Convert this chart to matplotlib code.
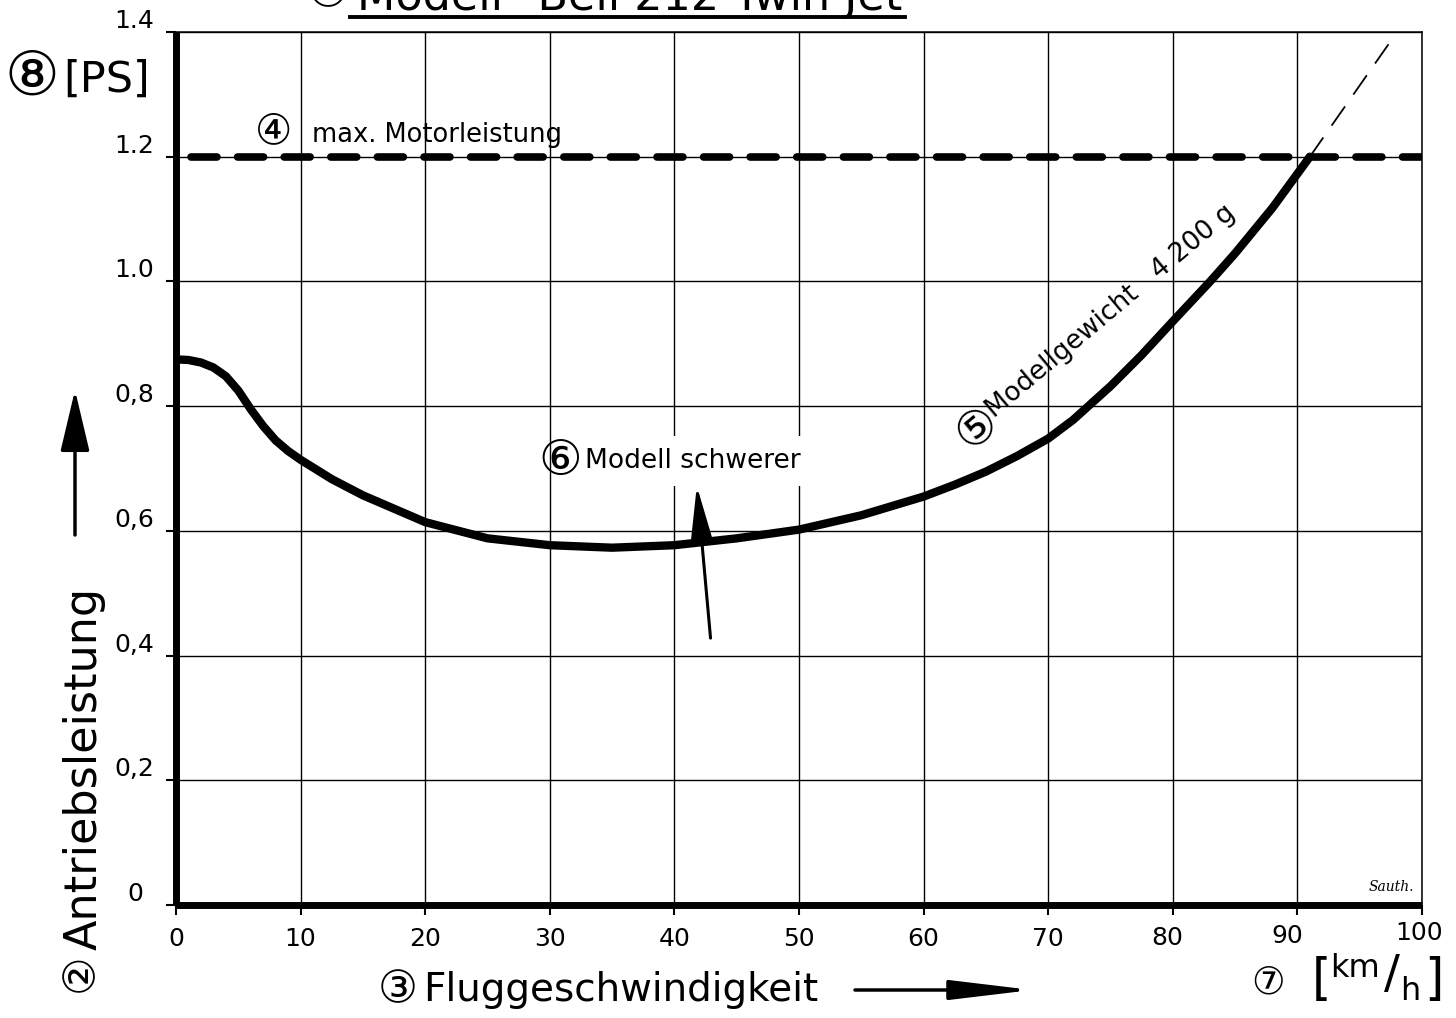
import matplotlib
matplotlib.use('Agg')
import matplotlib.pyplot as plt
from matplotlib.patches import FancyArrowPatch
from matplotlib.transforms import blended_transform_factory, offset_copy
from matplotlib.lines import Line2D

# ---------------- data ----------------
speed_kmh = [0, 1, 2, 3, 4, 5, 6, 7, 8, 9, 10, 12.5, 15, 20, 25, 30, 35, 40, 45, 50,
             55, 60, 62.5, 65, 67.5, 70, 72, 75, 77.5, 80, 83, 85, 88, 91]
power_ps = [0.875, 0.874, 0.870, 0.862, 0.848, 0.825, 0.795, 0.768, 0.745, 0.728, 0.714,
            0.683, 0.657, 0.614, 0.588, 0.577, 0.573, 0.577, 0.588, 0.602,
            0.625, 0.655, 0.674, 0.695, 0.720, 0.748, 0.778, 0.832, 0.882, 0.936,
            1.000, 1.045, 1.118, 1.200]
ext_speed = [91, 98]
ext_power = [1.20, 1.40]
max_power = 1.2

x_ticks = [0, 10, 20, 30, 40, 50, 60, 70, 80, 90, 100]
x_labels = ['0', '10', '20', '30', '40', '50', '60', '70', '80', '90', '100']
y_ticks = [0, 0.2, 0.4, 0.6, 0.8, 1.0, 1.2, 1.4]
y_labels = ['0', '0,2', '0,4', '0,6', '0,8', '1.0', '1.2', '1.4']

title = 'Modell "Bell 212 Twin Jet"'
label_motor = 'max. Motorleistung'
label_weight = 'Modellgewicht   4 200 g'
label_heavier = 'Modell schwerer'
ylabel = 'Antriebsleistung'
xlabel = 'Fluggeschwindigkeit'
unit_y = '[PS]'
signature = 'Sauth.'

plt.rcParams['font.family'] = ['DejaVu Sans']

W, H = 1456, 1018
fig = plt.figure(figsize=(W / 100, H / 100), dpi=100)
fig.patch.set_facecolor('white')
ax = fig.add_axes([176 / W, 1 - 905 / H, (1422 - 176) / W, (905 - 32) / H])

ax.set_xlim(0, 100)
ax.set_ylim(0, 1.4)


def fx(px):
    return px / W


def fy(py):
    return 1 - py / H


def circled(ch, x, y, size, rot=0):
    fig.text(fx(x), fy(y), ch, fontsize=size, ha='center', va='center',
             rotation=rot, family=['DejaVu Sans'])


# grid
ax.set_xticks(x_ticks)
ax.set_yticks(y_ticks)
ax.grid(True, color='black', lw=1.0)
ax.set_axisbelow(True)
ax.set_xticklabels([])
ax.set_yticklabels([])
ax.tick_params(axis='both', direction='out', length=7, width=1.5, color='black')

for s in ['top', 'right']:
    ax.spines[s].set_linewidth(1.1)
for s in ['left', 'bottom']:
    ax.spines[s].set_linewidth(5)
    ax.spines[s].set_capstyle('butt')

# max motor power dashed line
ax.axhline(max_power, xmin=0.012, color='black', lw=5.5, dashes=(3.4, 2.7),
           dash_capstyle='round', zorder=3)

# main curve
ax.plot(speed_kmh, power_ps, color='black', lw=6.0, solid_joinstyle='round',
        solid_capstyle='round', zorder=4)
# thin dashed extension
ax.plot(ext_speed, ext_power, color='black', lw=1.3, dashes=(13, 8), zorder=4)

# tick labels
tx = blended_transform_factory(ax.transData, ax.transAxes)
for v, lab in zip(x_ticks, x_labels):
    dx, dy = 0, -34
    if lab == '80':
        dx, dy = -6, -33
    if lab == '90':
        dx, dy = -10, -31
    if lab == '100':
        dx, dy = -3, -28
    ax.text(v, 0, lab, transform=offset_copy(tx, fig=fig, x=dx, y=dy, units='dots'),
            ha='center', va='center', fontsize=18)
ty = blended_transform_factory(ax.transAxes, ax.transData)
for v, lab in zip(y_ticks, y_labels):
    dx = -22 if lab != '0' else -33
    ax.text(0, v, lab, transform=offset_copy(ty, fig=fig, x=dx, y=11, units='dots'),
            ha='right', va='center', fontsize=18)

# annotations inside plot
circled('\u2463', 274, 131, 30)
ax.text(10.9, 1.2235, label_motor, fontsize=18.5, ha='left', va='baseline', zorder=5)

circled('\u2464', 977, 428, 33, rot=40)
ax.text(65.7, 0.781, label_weight, fontsize=19, rotation=40, rotation_mode='anchor',
        ha='left', va='baseline', zorder=5)

circled('\u2465', 560, 461, 35)
ax.text(32.8, 0.7008, label_heavier, fontsize=19, ha='left', va='baseline', zorder=5,
        bbox=dict(facecolor='white', edgecolor='none', pad=9))
ax.annotate('', xy=(41.8, 0.672), xytext=(42.9, 0.428),
            arrowprops=dict(arrowstyle='-|>,head_length=1.6,head_width=0.32',
                            mutation_scale=20, color='black', lw=2.2, shrinkA=0, shrinkB=0),
            zorder=6)
ax.text(99.4, 0.018, signature, fontsize=10, style='italic', ha='right', va='bottom',
        family=['DejaVu Serif'], zorder=5)

# title (partly cut off at top)
circled('\u2460', 328, -6, 34)
fig.text(fx(357), fy(10), title, fontsize=32, ha='left', va='baseline')
fig.add_artist(Line2D([fx(350), fx(905)], [fy(17), fy(17)], color='black', lw=2.8,
                      transform=fig.transFigure))

# axis labels
circled('\u2461', 80, 973, 31, rot=90)
fig.text(fx(84), fy(768), ylabel, fontsize=32, rotation=90, ha='center', va='center')
circled('\u2462', 398, 990, 32)
fig.text(fx(423), fy(990), xlabel, fontsize=28, ha='left', va='center')

circled('\u2467', 32, 78, 44)
fig.text(fx(63), fy(80), unit_y, fontsize=31, ha='left', va='center')

circled('\u2466', 1268, 983, 27)
fig.text(fx(1312), fy(980), '[', fontsize=36, ha='left', va='center')
fig.text(fx(1330), fy(977), 'km', fontsize=23, ha='left', va='baseline')
fig.text(fx(1392), fy(976), '/', fontsize=34, ha='center', va='center')
fig.text(fx(1400), fy(1000), 'h', fontsize=23, ha='left', va='baseline')
fig.text(fx(1444), fy(980), ']', fontsize=36, ha='right', va='center')

# axis arrows
fig.add_artist(FancyArrowPatch(
    (75, H - 535), (75, H - 390), transform=None,
    arrowstyle='-|>,head_length=1.9,head_width=0.45', mutation_scale=20,
    color='black', lw=2.5, shrinkA=0, shrinkB=0))
fig.add_artist(FancyArrowPatch(
    (855, H - 990), (1032, H - 990), transform=None,
    arrowstyle='-|>,head_length=2.5,head_width=0.3', mutation_scale=20,
    color='black', lw=2.5, shrinkA=0, shrinkB=0))

fig.savefig('out.png', dpi=100, facecolor='white')
